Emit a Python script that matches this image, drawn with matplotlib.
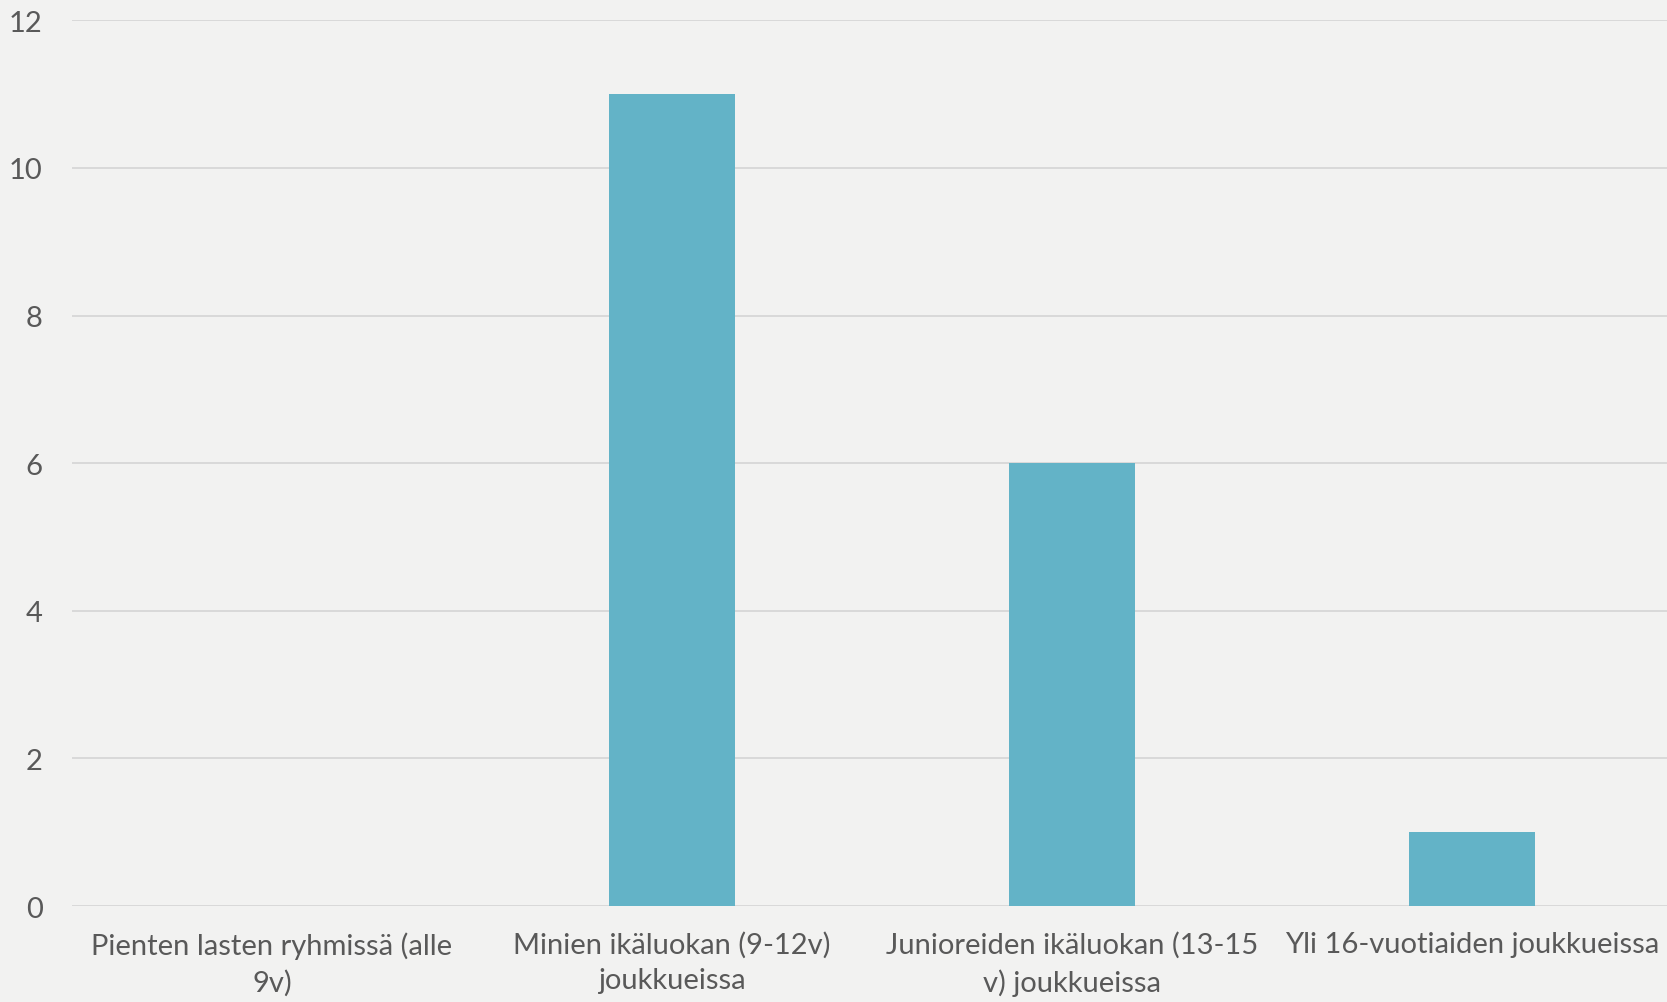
import matplotlib
matplotlib.use('Agg')
import matplotlib.pyplot as plt

categories = ["Pienten lasten ryhmissä (alle\n9v)",
              "Minien ikäluokan (9-12v)\njoukkueissa",
              "Junioreiden ikäluokan (13-15\nv) joukkueissa",
              "Yli 16-vuotiaiden joukkueissa"]
values = [0, 11, 6, 1]
yticks = [0, 2, 4, 6, 8, 10, 12]

BG = '#F2F2F1'
BAR = '#63B3C7'
TXT = '#595959'
GRID = '#D9D9D9'

plt.rcParams['font.family'] = ['Lato', 'DejaVu Sans']

fig = plt.figure(figsize=(16.67, 10.03), dpi=100, facecolor=BG)
ax = fig.add_axes([0.0432, 0.0957, 0.960, 0.883])
ax.set_facecolor(BG)

x = range(len(categories))
ax.bar(x, values, width=0.315, color=BAR, zorder=3)

ax.set_xlim(-0.5, len(categories) - 0.5)
ax.set_ylim(0, 12)
ax.set_yticks(yticks)
ax.set_yticklabels([str(t) for t in yticks])
ax.set_xticks(list(x))
ax.set_xticklabels(categories, linespacing=1.45)

ax.yaxis.grid(True, color=GRID, linewidth=1.4, zorder=0)
ax.set_axisbelow(True)
for s in ax.spines.values():
    s.set_visible(False)
ax.axhline(0, color=GRID, linewidth=1.4, zorder=1)

ax.tick_params(axis='both', length=0, colors=TXT, labelsize=21)
ax.tick_params(axis='y', pad=21)
ax.tick_params(axis='x', pad=18)

fig.savefig('out.png', dpi=100, facecolor=BG)
